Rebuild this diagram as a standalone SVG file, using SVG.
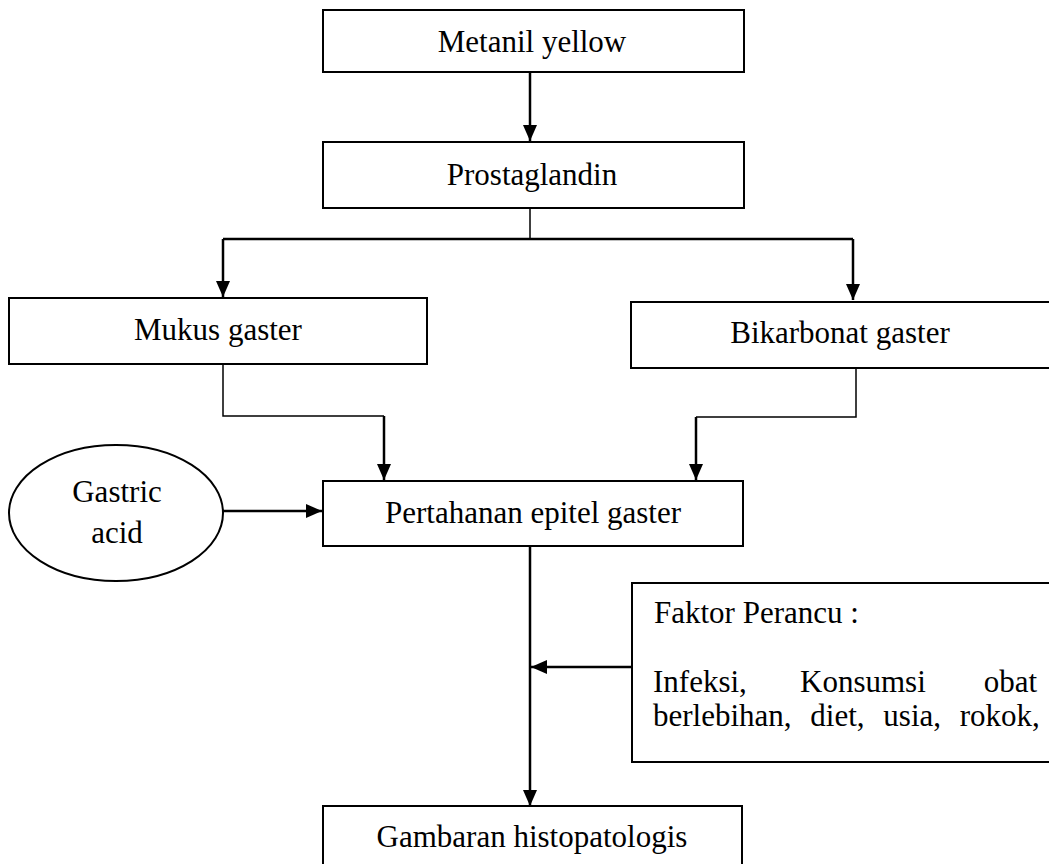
<svg xmlns="http://www.w3.org/2000/svg" width="1049" height="864" viewBox="0 0 1049 864">
<defs>
<marker id="ah" markerWidth="16" markerHeight="14" refX="16" refY="7" orient="auto" markerUnits="userSpaceOnUse" viewBox="0 0 16 14"><path d="M0,0 L16,7 L0,14 z" fill="#000"/></marker>
<style>
.box{fill:#fff;stroke:#000;stroke-width:2}
.t{font-family:"Liberation Serif","Times New Roman","DejaVu Serif",serif;font-size:31px;fill:#000}
.c{text-anchor:middle}
.ln{fill:none;stroke:#000;stroke-width:2.5}
.thin{fill:none;stroke:#000;stroke-width:1.5}
</style>
</defs>
<rect width="1049" height="864" fill="#fff"/>
<g id="connectors">
<line class="ln" x1="530" y1="72" x2="530" y2="141" marker-end="url(#ah)"/>
<polyline class="thin" points="530,208 530,239"/>
<polyline class="ln" points="223,239 853,239"/>
<line class="ln" x1="223" y1="239" x2="223" y2="297" marker-end="url(#ah)"/>
<line class="ln" x1="853" y1="239" x2="853" y2="300" marker-end="url(#ah)"/>
<polyline class="thin" points="223,364 223,416 384,416"/>
<polyline class="ln" points="384,416 384,480" marker-end="url(#ah)"/>
<polyline class="thin" points="856,368 856,417 696,417"/>
<polyline class="ln" points="696,417 696,480" marker-end="url(#ah)"/>
<line class="ln" x1="223" y1="511" x2="322" y2="511" marker-end="url(#ah)"/>
<line class="ln" x1="530" y1="546" x2="530" y2="806" marker-end="url(#ah)"/>
<line class="ln" x1="632" y1="667" x2="531" y2="667" marker-end="url(#ah)"/>
</g>
<g id="metanil">
<rect class="box" x="323" y="10" width="421" height="62"/>
<text class="t c" x="532" y="52">Metanil yellow</text>
</g>
<g id="prostaglandin">
<rect class="box" x="323" y="142" width="421" height="66"/>
<text class="t c" x="532" y="185">Prostaglandin</text>
</g>
<g id="mukus">
<rect class="box" x="9" y="298" width="418" height="66"/>
<text class="t c" x="218" y="340">Mukus gaster</text>
</g>
<g id="bikarbonat">
<rect class="box" x="631" y="302" width="430" height="66"/>
<text class="t c" x="840" y="343">Bikarbonat gaster</text>
</g>
<g id="gastric">
<ellipse cx="116" cy="513" rx="107" ry="68" fill="#fff" stroke="#000" stroke-width="2"/>
<text class="t c" x="117" y="502">Gastric</text>
<text class="t c" x="117" y="543">acid</text>
</g>
<g id="pertahanan">
<rect class="box" x="323" y="481" width="420" height="65"/>
<text class="t c" x="533" y="523">Pertahanan epitel gaster</text>
</g>
<g id="faktor">
<rect class="box" x="632" y="583" width="430" height="179"/>
<text class="t" x="654" y="623">Faktor Perancu :</text>
<text class="t" x="653" y="692">Infeksi,</text>
<text class="t" x="800" y="692">Konsumsi</text>
<text class="t" x="1037" y="692" text-anchor="end">obat</text>
<text class="t" x="653" y="726" word-spacing="11">berlebihan, diet, usia, rokok,</text>
</g>
<g id="gambaran">
<rect class="box" x="323" y="806" width="419" height="70"/>
<text class="t c" x="532" y="847">Gambaran histopatologis</text>
</g>
</svg>
